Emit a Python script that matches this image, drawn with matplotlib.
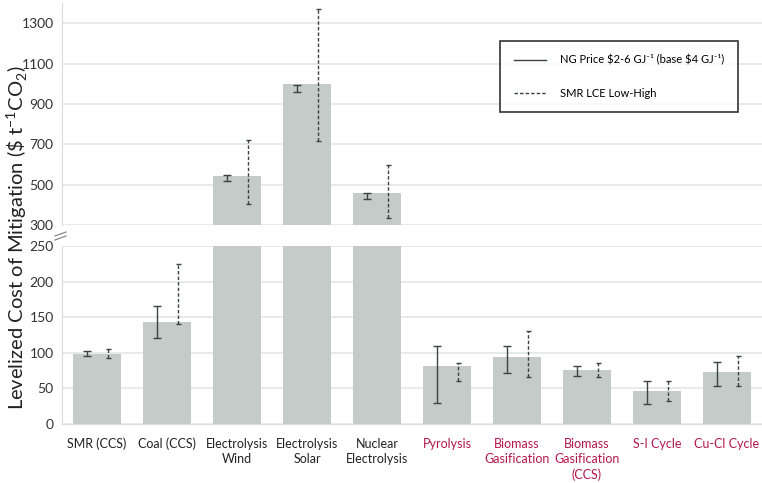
import matplotlib
matplotlib.use("Agg")
import matplotlib.pyplot as plt
import numpy as np
from matplotlib.lines import Line2D

plt.rcParams["font.family"] = ["Lato", "DejaVu Sans"]
plt.rcParams["mathtext.fontset"] = "custom"
plt.rcParams["mathtext.rm"] = "Lato"

# ---- data ----
categories = ["SMR (CCS)", "Coal (CCS)", "Electrolysis\nWind", "Electrolysis\nSolar",
              "Nuclear\nElectrolysis", "Pyrolysis", "Biomass\nGasification",
              "Biomass\nGasification\n(CCS)", "S-I Cycle", "Cu-Cl Cycle"]
label_red = [False] * 5 + [True] * 5
lcm = [99, 143, 545, 1000, 460, 82, 94, 76, 46, 73]
ng_low = [95, 121, 516, 960, 430, 29, 72, 68, 28, 54]
ng_high = [103, 166, 550, 995, 460, 110, 109, 82, 61, 87]
smr_low = [93, 140, 404, 714, 333, 61, 66, 66, 33, 53]
smr_high = [106, 225, 720, 1368, 595, 85, 131, 85, 61, 96]

BAR = "#c4cbc8"
ERR = "#3a4443"
GRID = "#e3e6e5"
RED = "#b5164b"

x = np.arange(len(categories))
W, H = 762, 483
fig = plt.figure(figsize=(W / 100, H / 100), dpi=100)
ax_top = fig.add_axes([62 / W, (H - 225) / H, 700 / W, 222 / H])
ax_bot = fig.add_axes([62 / W, (H - 424) / H, 700 / W, 178 / H])


def range_bar(ax, xs, low, high, cap, ls):
    low, high = np.asarray(low, float), np.asarray(high, float)
    mid, half = (low + high) / 2, (high - low) / 2
    eb = ax.errorbar(xs, mid, yerr=half, fmt="none", ecolor=ERR, elinewidth=1.0,
                     capsize=cap, capthick=1.0, zorder=3)
    eb[-1][0].set_linestyle(ls)


for ax in (ax_top, ax_bot):
    ax.bar(x, lcm, width=0.69, color=BAR, zorder=2)
    range_bar(ax, x - 0.15, ng_low, ng_high, 3.2, "-")
    range_bar(ax, x + 0.15, smr_low, smr_high, 1.8, (0, (2.5, 1.5)))
    ax.set_xlim(-0.5, 9.5)
    ax.grid(axis="y", color=GRID, lw=1.2, zorder=0)
    ax.set_axisbelow(True)
    for s in ("top", "right"):
        ax.spines[s].set_visible(False)
    ax.spines["left"].set_color("#d9dcdb")
    ax.spines["bottom"].set_color("#d9dcdb")
    ax.tick_params(length=0, labelsize=10, colors="#333333", pad=6)

ax_top.set_ylim(300, 1400)
ax_top.set_yticks(range(300, 1400, 200))
ax_top.set_xticks([])
ax_top.spines["bottom"].set_visible(False)

ax_bot.set_ylim(0, 250)
ax_bot.set_yticks(range(0, 251, 50))
ax_bot.set_xticks(x)
ax_bot.set_xticklabels(categories, fontsize=9, linespacing=1.3, va="top")
for lbl, red in zip(ax_bot.get_xticklabels(), label_red):
    lbl.set_color(RED if red else "#222222")
ax_bot.tick_params(axis="x", pad=10)

# break mark
for dy in (0, 4):
    fig.add_artist(Line2D([55 / W, 66 / W], [(H - 236 - dy) / H, (H - 232 - dy) / H],
                          color="#888888", lw=0.9))

fig.text(17 / W, (H - 238) / H, "Levelized Cost of Mitigation (\\$ t$^{-1}$CO$_2$)",
         rotation=90, ha="center", va="center", fontsize=14.5, color="#222222")

handles = [Line2D([0], [0], color=ERR, lw=1.0),
           Line2D([0], [0], color=ERR, lw=1.0, ls=(0, (2.5, 1.5)))]
leg = ax_top.legend(handles, ["NG Price \\$2-6 GJ\u207b\u00b9 (base \\$4 GJ\u207b\u00b9)",
                              "SMR LCE Low-High"],
                    loc="upper right", bbox_to_anchor=((738 - 62) / 700, 1 - 38 / 222),
                    frameon=True, fancybox=False, edgecolor="black", fontsize=8,
                    handlelength=2.9, labelspacing=2.0, borderpad=1.2, handletextpad=1.3,
                    borderaxespad=0)
leg.get_frame().set_linewidth(1.2)

fig.savefig("out.png", dpi=100)
